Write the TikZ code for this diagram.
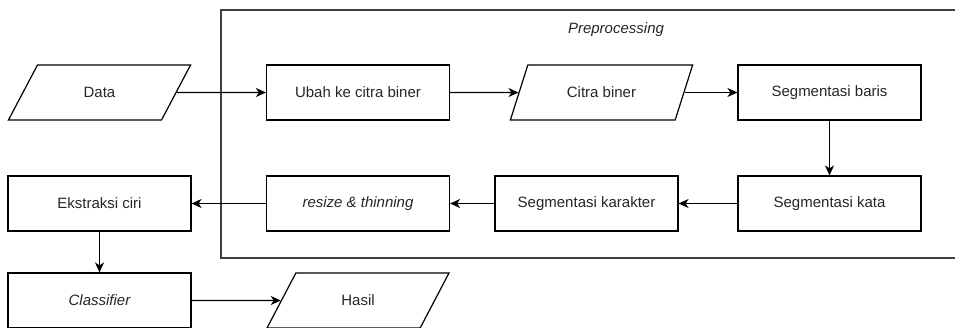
\documentclass[tikz,border=0pt]{standalone}
\usepackage{fontspec}
\setmainfont{Liberation Sans}
\usetikzlibrary{shapes.geometric,arrows.meta}

\begin{document}
\begin{tikzpicture}[x=1pt,y=-1pt,
            line width=1.2pt,
            every node/.style={draw,rectangle,minimum width=183pt,minimum height=55pt,
                inner sep=2pt,font=\fontsize{15}{18}\selectfont,text=black!85},
            io/.style={trapezium,trapezium left angle=60,trapezium right angle=120,
                trapezium stretches=true},
            flow/.style={-{Stealth[length=10pt,width=9pt,inset=3pt]}},
            ]
            \useasboundingbox (0,0) rectangle (955,327);
            \clip (0,0) rectangle (955,327);

            % kotak preprocessing
            \draw[black!75] (221,10) rectangle (965,258);
            \node[draw=none,minimum width=0pt,minimum height=0pt] (judul) at (616,30) {\itshape Preprocessing};

            \node[io] (data) at (99.5,92.5) {Data};
            \node (ubah) at (358,92.5) {Ubah ke citra biner};
            \node[io] (citra) at (601.5,92.5) {Citra biner};
            \node (baris) at (829.5,92.5) {Segmentasi baris};
            \node (kata) at (829.5,203.5) {Segmentasi kata};
            \node (karakter) at (586.5,203.5) {Segmentasi karakter};
            \node (resize) at (358,203.5) {\itshape resize \& thinning};
            \node (ciri) at (99.5,203.5) {Ekstraksi ciri};
            \node (klasifikasi) at (99.5,300.5) {\itshape Classifier};
            \node[io] (hasil) at (358,300.5) {Hasil};

            \foreach \a/\b in {data/ubah,ubah/citra,citra/baris,baris/kata,kata/karakter,
                karakter/resize,resize/ciri,ciri/klasifikasi,klasifikasi/hasil}
                \draw[flow] (\a) -- (\b);
\end{tikzpicture}
\end{document}
